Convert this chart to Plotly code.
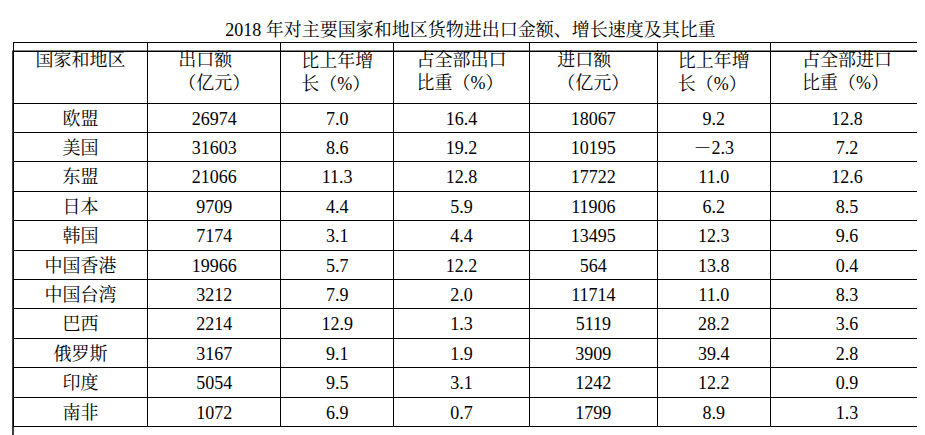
import plotly.graph_objects as go

regions = ['欧盟', '美国', '东盟', '日本', '韩国', '中国香港', '中国台湾', '巴西', '俄罗斯', '印度', '南非']
export_amt = ['26974', '31603', '21066', '9709', '7174', '19966', '3212', '2214', '3167', '5054', '1072']
export_growth = ['7.0', '8.6', '11.3', '4.4', '3.1', '5.7', '7.9', '12.9', '9.1', '9.5', '6.9']
export_share = ['16.4', '19.2', '12.8', '5.9', '4.4', '12.2', '2.0', '1.3', '1.9', '3.1', '0.7']
import_amt = ['18067', '10195', '17722', '11906', '13495', '564', '11714', '5119', '3909', '1242', '1799']
import_growth = ['9.2', '－2.3', '11.0', '6.2', '12.3', '13.8', '11.0', '28.2', '39.4', '12.2', '8.9']
import_share = ['12.8', '7.2', '12.6', '8.5', '9.6', '0.4', '8.3', '3.6', '2.8', '0.9', '1.3']

headers = ['<br>国家和地区', '出口额<br>（亿元）', '比上年增<br>长（%）', '占全部出口<br>比重（%）',
           '进口额<br>（亿元）', '比上年增<br>长（%）', '占全部进口<br>比重（%）']

font = 'Liberation Serif, Noto Serif CJK SC, Noto Sans CJK SC, serif'

fig = go.Figure(go.Table(
    domain=dict(x=[5/925, 917/925], y=[0, 1]),
    columnwidth=[135, 133, 113, 136, 128, 113, 154],
    header=dict(values=headers, height=61, align='center',
                fill_color='white', line=dict(color='black', width=1),
                font=dict(family=font, size=18, color='black')),
    cells=dict(values=[regions, export_amt, export_growth, export_share,
                       import_amt, import_growth, import_share],
               height=29.4, align='center', fill_color='white',
               line=dict(color='black', width=1),
               font=dict(family=font, size=18, color='black')),
))

# outer frame
fig.add_shape(type='rect', xref='paper', yref='paper',
              x0=5/925, x1=917/925, y0=0.0, y1=0.977,
              line=dict(color='black', width=1.5))

fig.update_layout(
    width=925, height=435,
    margin=dict(l=0, r=0, t=34, b=4),
    paper_bgcolor='white',
    title=dict(text='2018 年对主要国家和地区货物进出口金额、增长速度及其比重',
               x=0.5, y=0.965, xanchor='center',
               font=dict(family=font, size=18, color='black')),
)

fig.write_html('out.html')
